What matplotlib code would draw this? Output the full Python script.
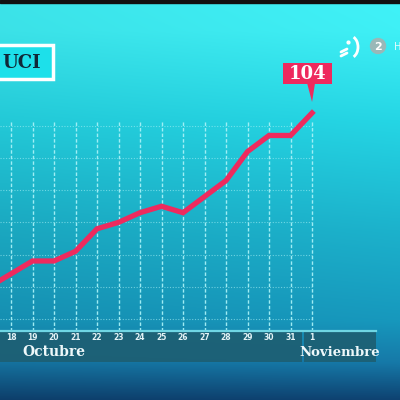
import numpy as np
import matplotlib
matplotlib.use("Agg")
import matplotlib.pyplot as plt
from matplotlib.patches import Rectangle, Polygon, Circle, Arc
from matplotlib import transforms

# UCI occupancy, 17 Oct .. 1 Nov
days = ["17", "18", "19", "20", "21", "22", "23", "24", "25", "26",
        "27", "28", "29", "30", "31", "1"]
uci = [50, 54, 58, 58, 61, 68, 70, 73, 75, 73, 78, 83, 92, 97, 97, 104]
grid_levels = [40, 50, 60, 70, 80, 90, 100]

RED = "#ee2a5e"
SERIF = "DejaVu Serif"

fig = plt.figure(figsize=(4, 4), dpi=100)

# background gradient (pixel coords)
bg = fig.add_axes([0, 0, 1, 1])
bg.set_xlim(0, 400)
bg.set_ylim(400, 0)
bg.axis("off")
stops_y = [0, 30, 120, 230, 320, 362, 400]
stops_c = ["#40f2f8", "#3ff0f6", "#25d6e5", "#1cb2cc", "#1798bd", "#1679a8", "#0e4170"]
rgb = np.array([matplotlib.colors.to_rgb(c) for c in stops_c])
yy = np.arange(400)
col = np.stack([np.interp(yy, stops_y, rgb[:, k]) for k in range(3)], axis=1)
img = np.repeat(col[:, None, :], 400, axis=1)
shade = np.linspace(0.94, 1.0, 400)[None, :, None]
img = np.clip(img * shade, 0, 1)
bg.imshow(img, extent=(0, 400, 400, 0), aspect="auto", zorder=0)
bg.add_patch(Rectangle((0, 0), 400, 3, color="#111111", zorder=1))

# chart axes
ax = fig.add_axes([0, 0, 1, 1])
ax.patch.set_alpha(0)
ax.axis("off")
x = np.arange(len(days))
ax.set_xlim(0.488, 19.09)
ax.set_ylim(14.8, 139.1)

ax.vlines(x[1:], 36.2, 101.5, colors="#a6f1f7", linestyles=(0, (2.5, 1.5)), lw=1.0, alpha=0.95)
ax.hlines(grid_levels, 0.488, x[-1], colors="#a6f1f7", linestyles=(0, (1, 1.5)), lw=0.8, alpha=0.6)
ax.plot(x, uci, color=RED, lw=3.8, solid_joinstyle="miter", zorder=5)

# overlay (pixel coords)
ov = fig.add_axes([0, 0, 1, 1])
ov.patch.set_alpha(0)
ov.set_xlim(0, 400)
ov.set_ylim(400, 0)
ov.axis("off")

# date band
ov.add_patch(Rectangle((0, 331), 302, 31, color="#1d5f73", alpha=0.92, lw=0))
ov.add_patch(Rectangle((304, 331), 72, 31, color="#1d5f73", alpha=0.92, lw=0))
ov.plot([0, 376], [331, 331], color="#6fd6e4", lw=1.6)

tr = transforms.blended_transform_factory(ax.transData, ov.transData)
for xi, d in zip(x[1:], days[1:]):
    ov.text(xi, 338, d, transform=tr, ha="center", va="center",
            fontsize=5.5, fontweight="bold", color="#e4f3f6", zorder=5)
ov.text(54, 352, "Octubre", ha="center", va="center", fontsize=10,
        fontweight="bold", family=SERIF, color="#eef8fa")
ov.text(340, 352, "Noviembre", ha="center", va="center", fontsize=9.5,
        fontweight="bold", family=SERIF, color="#eef8fa")

# UCI tag
ov.add_patch(Rectangle((-6, 45), 59, 34, facecolor="#1de0ea", edgecolor="white", lw=2.5))
ov.text(22, 62.5, "UCI", ha="center", va="center", fontsize=13, fontweight="bold",
        family=SERIF, color="#102838")

# last value callout
px, py = ov.transData.inverted().transform(ax.transData.transform((x[-1], uci[-1])))
ov.add_patch(Rectangle((px - 29, 63), 49, 21, color=RED, lw=0))
ov.add_patch(Polygon([[px - 5, 83], [px + 3, 83], [px, py - 11]], closed=True, color=RED, lw=0))
ov.text(px - 4.5, 74, str(uci[-1]), ha="center", va="center", fontsize=13,
        fontweight="bold", family=SERIF, color="white")

# channel logo
ov.add_patch(Arc((350, 47), 16, 22, theta1=-70, theta2=70, color="white", lw=2))
ov.plot([341, 347], [52, 49], color="white", lw=2, solid_capstyle="round")
ov.plot([341, 347], [56, 53], color="white", lw=2, solid_capstyle="round")
ov.plot([348], [42], marker="o", color="white", ms=2)
ov.add_patch(Circle((378, 46), 7.5, color="#9ab8b8"))
ov.text(378, 46.5, "2", ha="center", va="center", fontsize=8, fontweight="bold", color="white")
ov.text(394, 46.5, "H", ha="left", va="center", fontsize=7, color="white", alpha=0.85)

fig.savefig("out.png", dpi=100)
